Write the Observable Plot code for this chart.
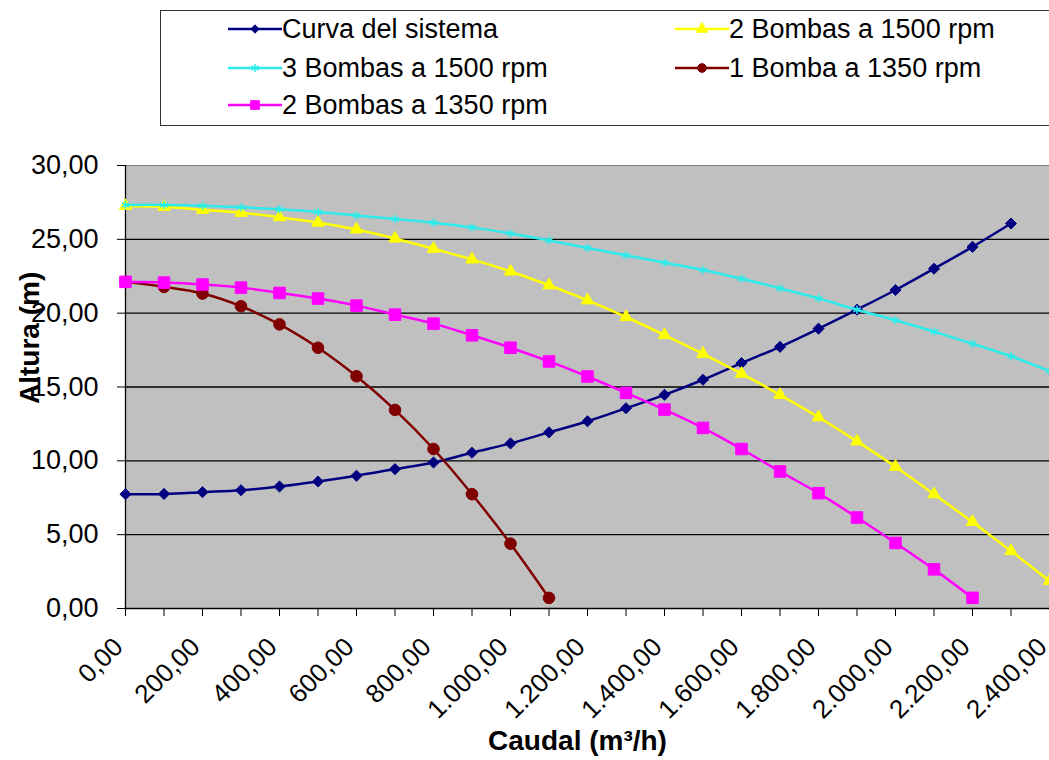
<!DOCTYPE html>
<html><head><meta charset="utf-8">
<script src="https://cdn.jsdelivr.net/npm/d3@7"></script>
<script src="https://cdn.jsdelivr.net/npm/@observablehq/plot@0.6"></script>
<style>
body{margin:0;background:#fff;font-family:"Liberation Sans",Arial,sans-serif;overflow:hidden}
#legend{position:relative;height:140px;width:1049px;overflow:hidden}
#box{position:absolute;left:160px;top:10px;width:900px;height:116px;border:1px solid #333;box-sizing:border-box}
.item{position:absolute;display:flex;align-items:center;font-size:27px;white-space:nowrap;height:36px;color:#000}
.item svg{margin-right:0px}
</style></head><body>
<div id="legend"><div id="box"></div></div>
<div id="chart"></div>
<script>
// Caudal (m³/h) categories
const caudal = [0,100,200,300,400,500,600,700,800,900,1000,1100,1200,1300,1400,1500,1600,1700,1800,1900,2000,2100,2200,2300,2400];
// Series values (Altura, m)
const curvaSistema = [7.74,7.76,7.88,8.01,8.26,8.60,8.99,9.44,9.89,10.55,11.18,11.93,12.68,13.56,14.47,15.49,16.62,17.72,18.95,20.24,21.57,23.01,24.49,26.07];
const bombas2a1500 = [27.26,27.20,27.00,26.80,26.50,26.13,25.67,25.06,24.36,23.64,22.82,21.89,20.87,19.74,18.52,17.25,15.90,14.47,12.95,11.32,9.60,7.74,5.86,3.89,1.86];
const bombas3a1500 = [27.33,27.33,27.28,27.17,27.03,26.85,26.62,26.38,26.13,25.81,25.40,24.93,24.41,23.92,23.42,22.92,22.33,21.68,21.00,20.23,19.52,18.75,17.93,17.08,16.08];
const bomba1a1350 = [22.12,21.78,21.33,20.47,19.24,17.66,15.73,13.45,10.80,7.74,4.39,0.72];
const bombas2a1350 = [22.12,22.07,21.94,21.73,21.37,20.99,20.51,19.90,19.29,18.50,17.66,16.73,15.71,14.60,13.47,12.23,10.80,9.28,7.81,6.16,4.44,2.65,0.72];
// Tick values
const yTicks = [0,5,10,15,20,25,30];
const xLabelTicks = [0,200,400,600,800,1000,1200,1400,1600,1800,2000,2200,2400];
const seriesNames = ["Curva del sistema","2 Bombas a 1500 rpm","3 Bombas a 1500 rpm","1 Bomba a 1350 rpm","2 Bombas a 1350 rpm"];

const loc = d3.formatLocale({decimal:",", thousands:".", grouping:[3], currency:["",""]});
const fmt = loc.format(",.2f");

const series = [
  {name:seriesNames[0], values:curvaSistema, color:"#000080", symbol:"diamond2", r:5, fill:"#000080", stroke:"#000080", d3sym:d3.symbolDiamond2, lsize:45},
  {name:seriesNames[1], values:bombas2a1500, color:"#FFFF00", symbol:"triangle", r:4.6, fill:"#FFFF00", stroke:"#FFFF00", d3sym:d3.symbolTriangle, lsize:55},
  {name:seriesNames[2], values:bombas3a1500, color:"#2EEBEB", symbol:"asterisk", r:4, fill:"none", stroke:"#2EEBEB", d3sym:d3.symbolAsterisk, lsize:50},
  {name:seriesNames[3], values:bomba1a1350, color:"#800000", symbol:"circle", r:5.8, fill:"#800000", stroke:"#800000", d3sym:d3.symbolCircle, lsize:60},
  {name:seriesNames[4], values:bombas2a1350, color:"#FF00FF", symbol:"square", r:6.5, fill:"#FF00FF", stroke:"#FF00FF", d3sym:d3.symbolSquare, lsize:75}
];
const rows = series.map(s => s.values.map((v,i) => ({serie:s.name, q:caudal[i], h:v})));

const marks = [
  Plot.frame({fill:"#C0C0C0", stroke:"#808080"}),
  Plot.gridY(yTicks.filter(v => v > 0 && v < 30), {stroke:"#000", strokeOpacity:1, strokeWidth:1.3}),
  Plot.ruleX([0], {stroke:"#000", strokeWidth:1.3}),
  Plot.ruleY([0], {stroke:"#000", strokeWidth:1.3}),
  Plot.axisY({ticks:yTicks, tickFormat:fmt, tickSize:8, tickPadding:19, fontSize:27, label:null}),
  Plot.axisX({ticks:caudal, tickFormat:() => "", tickSize:8, label:null}),
  Plot.text(xLabelTicks, {x:d => d, text:d => fmt(d), frameAnchor:"bottom", rotate:-45, textAnchor:"end", dx:-1, dy:40, fontSize:26})
];
series.forEach((s, k) => {
  marks.push(Plot.line(rows[k], {x:"q", y:"h", stroke:s.color, strokeWidth:2.5, curve:"catmull-rom"}));
  marks.push(Plot.dot(rows[k], {x:"q", y:"h", symbol:s.symbol, r:s.r, fill:s.fill, stroke:s.stroke, strokeWidth:s.symbol==="asterisk"?1.5:1}));
});
marks.push(Plot.text(["Altura (m)"], {frameAnchor:"left", dx:-95, dy:17, rotate:-90, fontSize:28, fontWeight:"bold"}));
marks.push(Plot.text(["Caudal (m³/h)"], {frameAnchor:"bottom", dx:-10, dy:141, fontSize:28, fontWeight:"bold"}));

const chart = Plot.plot({
  width:1049, height:620, marginTop:25, marginBottom:152, marginLeft:125, marginRight:0,
  style:{fontFamily:'"Liberation Sans", Arial, sans-serif', background:"transparent", overflow:"visible", color:"#000"},
  x:{domain:[0,2400]}, y:{domain:[0,30]},
  marks
});
document.getElementById("chart").appendChild(chart);

// Legend
const legend = document.getElementById("legend");
const pos = [[228,29],[675,29],[228,68],[675,68],[228,105]];
series.forEach((s, k) => {
  const it = document.createElement("div");
  it.className = "item";
  it.style.left = pos[k][0] + "px";
  it.style.top = (pos[k][1] - 18) + "px";
  const w = 54;
  const path = d3.symbol(s.d3sym, s.lsize)();
  const isStroke = s.symbol === "asterisk";
  it.innerHTML = `<svg width="${w}" height="20" viewBox="0 0 ${w} 20"><line x1="0" x2="${w}" y1="10" y2="10" stroke="${s.color}" stroke-width="2.5"/><path transform="translate(${w/2},10)" d="${path}" fill="${isStroke ? "none" : s.fill}" stroke="${s.stroke}" stroke-width="${isStroke ? 1.5 : 1}"/></svg><span>${s.name}</span>`;
  legend.appendChild(it);
});
</script>
</body></html>
